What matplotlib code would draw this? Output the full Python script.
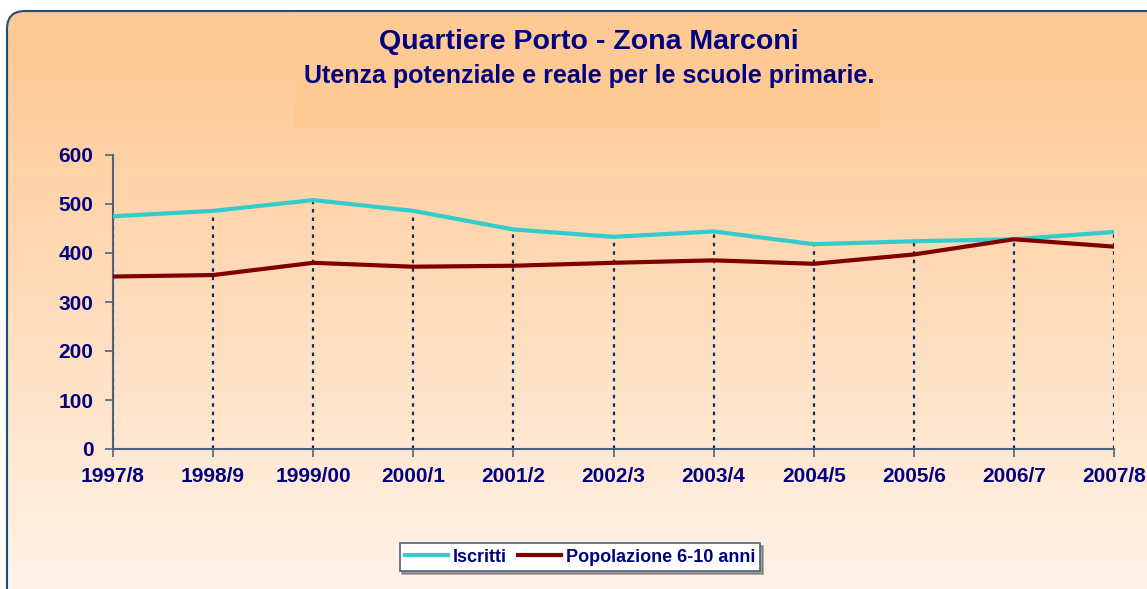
import numpy as np
import matplotlib
matplotlib.use("Agg")
import matplotlib.pyplot as plt
from matplotlib.patches import FancyBboxPatch, Rectangle

plt.rcParams["font.family"] = ["Liberation Sans", "DejaVu Sans"]

# --- dati ---
anni = ["1997/8", "1998/9", "1999/00", "2000/1", "2001/2", "2002/3",
        "2003/4", "2004/5", "2005/6", "2006/7", "2007/8"]
iscritti = [475, 486, 508, 486, 448, 433, 444, 418, 424, 428, 443]
popolazione = [352, 355, 380, 372, 374, 380, 385, 378, 397, 428, 413]
y_ticks = [0, 100, 200, 300, 400, 500, 600]

W, H = 1147, 589
NAVY = "#000080"
AXIS = "#4A6480"

fig = plt.figure(figsize=(W / 100, H / 100), dpi=100)
fig.patch.set_facecolor("white")

# sfondo: riquadro arrotondato con sfumatura arancio -> chiaro
bg = fig.add_axes([0, 0, 1, 1])
bg.set_xlim(0, W)
bg.set_ylim(H, 0)
bg.axis("off")
top = np.array([255, 200, 147]) / 255
bot = np.array([255, 245, 236]) / 255
t = np.linspace(0, 1, 256)[:, None] ** 1.1
grad = (top * (1 - t) + bot * t)[:, None, :]
box = FancyBboxPatch((7, 11), 1200, 600, boxstyle="round,pad=0,rounding_size=18",
                     facecolor="none", edgecolor="#1F4E79", linewidth=1.5, zorder=3)
bg.add_patch(box)
im = bg.imshow(grad, extent=(7, 1207, 611, 11), aspect="auto", zorder=1)
im.set_clip_path(box)
bg.add_patch(Rectangle((295, 12), 585, 116, facecolor="#FFC994",
                       edgecolor="none", zorder=2))

fig.text(589 / W, 1 - 42 / H, "Quartiere Porto - Zona Marconi", ha="center",
         va="center", fontsize=20.5, fontweight="bold", color=NAVY)
fig.text(589 / W, 1 - 76 / H, "Utenza potenziale e reale per le scuole primarie.",
         ha="center", va="center", fontsize=18, fontweight="bold", color=NAVY)

# area del grafico
ax = fig.add_axes([113 / W, 1 - 449 / H, (1114 - 113) / W, (449 - 155) / H])
ax.patch.set_alpha(0)
x = np.arange(len(anni))

# linee di proiezione (dal valore massimo all'asse)
cima = np.maximum(iscritti, popolazione)
ax.vlines(x, 0, cima, colors="#0A3060", linewidth=1.6,
          linestyles=(0, (1.6, 2.2)), zorder=1)

ax.plot(x, iscritti, color="#33CCCC", linewidth=3, label="Iscritti", zorder=3)
ax.plot(x, popolazione, color="#800000", linewidth=3,
        label="Popolazione 6-10 anni", zorder=3)

ax.set_xlim(0, len(anni) - 1)
ax.set_ylim(0, 600)
ax.set_xticks(x)
ax.set_xticklabels(anni)
ax.set_yticks(y_ticks)
for s in ["top", "right"]:
    ax.spines[s].set_visible(False)
for s in ["left", "bottom"]:
    ax.spines[s].set_color(AXIS)
    ax.spines[s].set_linewidth(1.5)
ax.tick_params(axis="both", direction="out", length=6, width=1.2, color=AXIS,
               labelsize=15, labelcolor=NAVY)
ax.tick_params(axis="x", pad=7)
ax.tick_params(axis="y", pad=8)
for lab in ax.get_xticklabels() + ax.get_yticklabels():
    lab.set_fontweight("bold")

leg = fig.legend(loc="center", bbox_to_anchor=(580 / W, 1 - 557 / H), ncol=2,
                 frameon=True, fancybox=False, shadow=True, fontsize=13,
                 handlelength=2.4, handletextpad=0.25, columnspacing=0.6,
                 borderpad=0.3)
leg.get_frame().set_edgecolor(AXIS)
leg.get_frame().set_facecolor("white")
leg.get_frame().set_linewidth(1.2)
for txt in leg.get_texts():
    txt.set_color(NAVY)
    txt.set_fontweight("bold")

fig.savefig("out.png", dpi=100)
